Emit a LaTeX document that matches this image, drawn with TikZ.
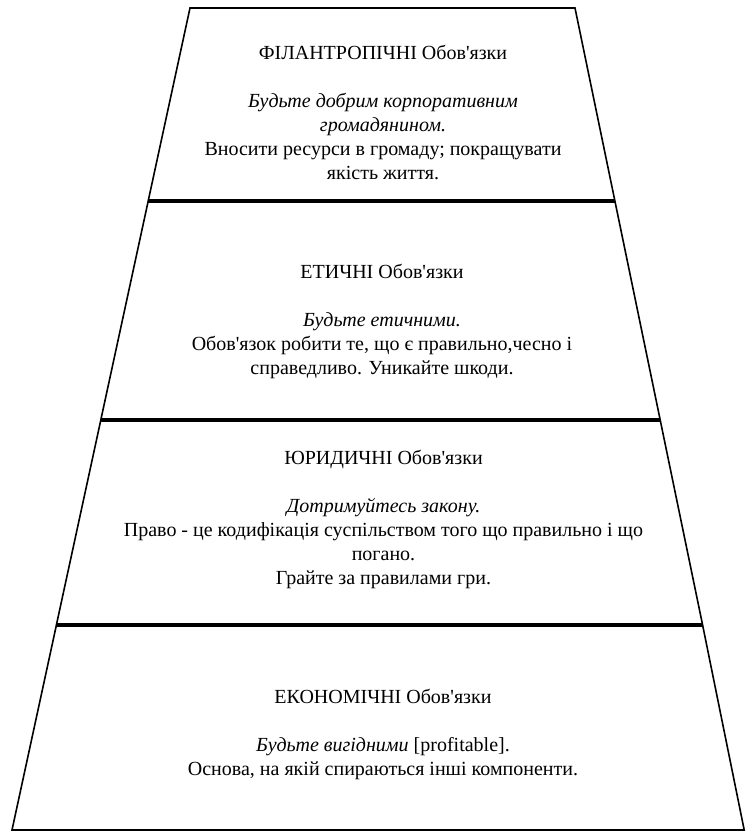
\documentclass[tikz,border=0pt]{standalone}
\usepackage{fontspec}
\newfontfamily\uafont{Liberation Serif}
\begin{document}
\begin{tikzpicture}[x=1pt,y=-1pt,
  layer/.style={draw=black,line width=1.6pt,line join=miter,fill=white},
  txt/.style={inner sep=0pt,align=center,font=\uafont\fontsize{20}{24}\selectfont}]
\useasboundingbox (0,0) rectangle (745,833);
% layers (each a separate trapezoid)
\draw[layer] (190,8) -- (575,8) -- (614.7,200) -- (148.4,200) -- cycle;
\draw[layer] (148,202) -- (615.1,202) -- (660,419) -- (101,419) -- cycle;
\draw[layer] (100.6,421) -- (660.4,421) -- (702.4,624) -- (56.6,624) -- cycle;
\draw[layer] (56.2,626) -- (702.8,626) -- (744.2,830) -- (12,830) -- cycle;
% texts
\node[txt] (phil) at (383,114.2) {\strut ФІЛАНТРОПІЧНІ Обов'язки\\ \strut\\
  \strut\itshape Будьте добрим корпоративним\\ \strut\itshape громадянином.\\
  \strut Вносити ресурси в громаду; покращувати\\ \strut якість життя.};
\node[txt] (eth) at (382,321.2) {\strut ЕТИЧНІ Обов'язки\\ \strut\\
  \strut\itshape Будьте етичними.\\
  \strut Обов'язок робити те, що є правильно,чесно і\\ \strut справедливо. Уникайте шкоди.};
\node[txt] (leg) at (383.5,519.2) {\strut ЮРИДИЧНІ Обов'язки\\ \strut\\
  \strut\itshape Дотримуйтесь закону.\\
  \strut Право - це кодифікація суспільством того що правильно і що\\ \strut погано.\\
  \strut Грайте за правилами гри.};
\node[txt] (eco) at (383,734.2) {\strut ЕКОНОМІЧНІ Обов'язки\\ \strut\\
  \strut{\itshape Будьте вигідними} [profitable].\\
  \strut Основа, на якій спираються інші компоненти.};
\end{tikzpicture}
\end{document}
